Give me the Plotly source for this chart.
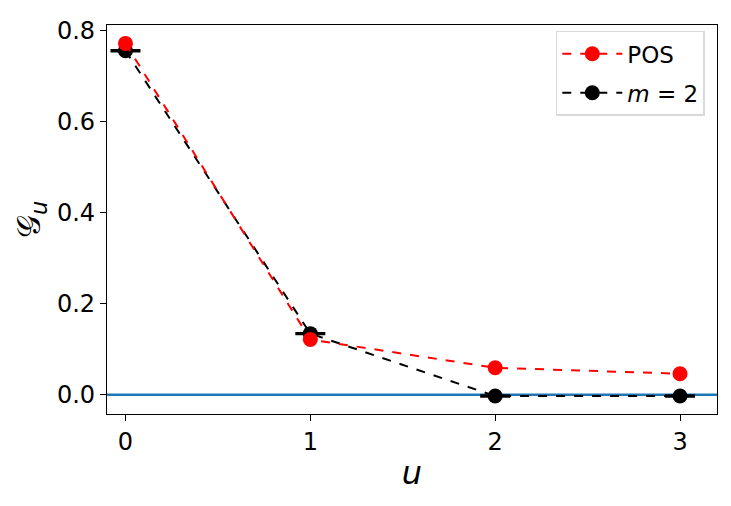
import plotly.graph_objects as go

# data
u = [0, 1, 2, 3]
pos_vals = [0.771, 0.121, 0.059, 0.046]
m2_vals = [0.755, 0.134, -0.003, -0.003]
m2_err = [0.001, 0.001, 0.001, 0.001]
x_ticks = [0, 1, 2, 3]
y_ticks = [0.0, 0.2, 0.4, 0.6, 0.8]

font = "DejaVu Sans, Liberation Sans, sans-serif"

fig = go.Figure()

# zero line
fig.add_hline(y=0, line_color="#1f77b4", line_width=2.5, layer="below")

# m = 2 (drawn first so POS sits on top, like the reference)
fig.add_trace(go.Scatter(
    x=u, y=m2_vals,
    mode="lines+markers",
    name="<i>m</i> = 2",
    legendgroup="m2",
    legendrank=2,
    line=dict(color="black", width=2, dash="dash"),
    marker=dict(color="black", size=15),
    error_y=dict(type="data", array=m2_err, color="black", thickness=2.5, width=15),
))

fig.add_trace(go.Scatter(
    x=u, y=pos_vals,
    mode="lines+markers",
    name="POS",
    legendgroup="pos",
    legendrank=1,
    line=dict(color="red", width=2, dash="dash"),
    marker=dict(color="red", size=15),
))

fig.update_layout(
    width=731, height=506,
    margin=dict(l=99, r=22, t=9, b=100),
    paper_bgcolor="white",
    plot_bgcolor="white",
    font=dict(family=font, color="black", size=24),
    showlegend=True,
    legend=dict(
        x=0.98, y=0.985, xanchor="right", yanchor="top",
        traceorder="grouped",
        tracegroupgap=6,
        bgcolor="rgba(255,255,255,0.8)",
        bordercolor="#d9d9d9", borderwidth=1.5,
        font=dict(size=23),
        itemwidth=60,
    ),
    xaxis=dict(
        range=[-0.1, 3.2],
        tickvals=x_ticks,
        ticks="outside", ticklen=6, tickwidth=1.2, tickcolor="black",
        showgrid=False, zeroline=False,
        showline=True, linecolor="black", linewidth=1.2, mirror=True,
        title=dict(text="<i>u</i>", font=dict(size=32), standoff=6),
    ),
    yaxis=dict(
        range=[-0.0424, 0.8114],
        tickvals=y_ticks,
        tickformat=".1f",
        ticks="outside", ticklen=6, tickwidth=1.2, tickcolor="black",
        showgrid=False, zeroline=False,
        showline=True, linecolor="black", linewidth=1.2, mirror=True,
        title=dict(text="𝒢<sub><i>u</i></sub>", font=dict(size=32), standoff=6),
    ),
)

fig.write_html("out.html")
